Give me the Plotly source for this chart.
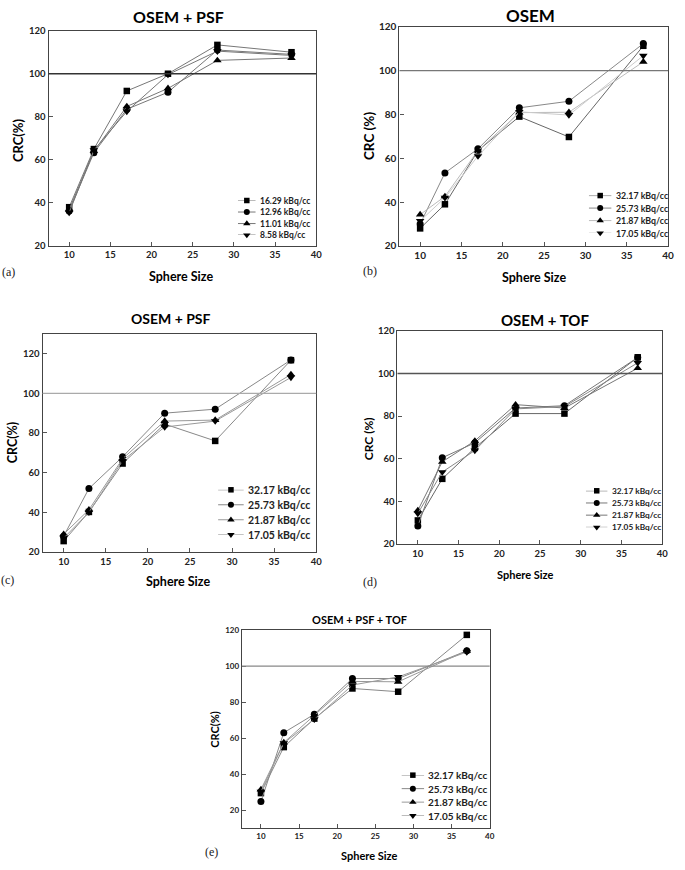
import plotly.graph_objects as go

W, H = 685, 870

# ---------------- data ----------------
SPHERE = [10, 13, 17, 22, 28, 37]
REF_LINE = 100
X_TICKS = [10, 15, 20, 25, 30, 35, 40]

A_TITLE = "OSEM + PSF"
A_LABELS = ["16.29 kBq/cc", "12.96 kBq/cc", "11.01 kBq/cc", "8.58 kBq/cc"]
A_SQUARE = [38, 65, 92, 100, 113.4, 110]
A_CIRCLE = [36.2, 63.3, 83.5, 91.4, 111, 109]
A_TRIANGLE = [37, 64, 84.8, 93.2, 106.2, 107.3]
A_INVERTED = [35.5, 64.5, 82.5, 99.6, 110.5, 108.5]

B_TITLE = "OSEM"
B_LABELS = ["32.17 kBq/cc", "25.73 kBq/cc", "21.87 kBq/cc", "17.05 kBq/cc"]
B_SQUARE = [28, 39, 63.5, 79, 69.7, 111.3]
B_CIRCLE = [30, 53.3, 64.3, 83, 86, 112.3]
B_TRIANGLE = [34.3, 42.6, 63.5, 80.8, 81, 104]
B_INVERTED = [31.4, 42, 61, 81.2, 79.7, 106.8]

C_TITLE = "OSEM + PSF"
C_LABELS = ["32.17 kBq/cc", "25.73 kBq/cc", "21.87 kBq/cc", "17.05 kBq/cc"]
C_SQUARE = [25.5, 40.2, 64.6, 84.5, 76, 116.7]
C_CIRCLE = [28, 52, 68, 90, 92, 116.8]
C_TRIANGLE = [29, 41.3, 67, 86, 86.5, 109.5]
C_INVERTED = [27, 40, 66, 83, 86, 108]

D_TITLE = "OSEM + TOF"
D_LABELS = ["32.17 kBq/cc", "25.73 kBq/cc", "21.87 kBq/cc", "17.05 kBq/cc"]
D_SQUARE = [31.1, 50.6, 65.1, 81.2, 81.2, 107.6]
D_CIRCLE = [28.5, 60.5, 67.5, 83.8, 84.9, 107.5]
D_TRIANGLE = [35.8, 58.6, 68.4, 85.4, 83.8, 102.5]
D_INVERTED = [34.4, 53.8, 63.9, 83.4, 84.5, 105]

E_TITLE = "OSEM + PSF + TOF"
E_LABELS = ["32.17 kBq/cc", "25.73 kBq/cc", "21.87 kBq/cc", "17.05 kBq/cc"]
E_SQUARE = [29.6, 55.1, 70.9, 87.6, 85.8, 117.3]
E_CIRCLE = [24.9, 63.1, 73.3, 93.1, 93.1, 108.5]
E_TRIANGLE = [31.6, 57.6, 72.7, 91.5, 91.3, 108.5]
E_INVERTED = [30.4, 57.3, 70.5, 89.5, 94, 107.8]

X_LABEL = "Sphere Size"
PANEL_TAGS = ["(a)", "(b)", "(c)", "(d)", "(e)"]

# ---------------- style / layout ----------------
SYMBOLS = ["square", "circle", "triangle-up", "triangle-down"]
MSIZE = [6.5, 7, 7.5, 7.5]
LEG_MSIZE = [5.5, 6, 6.5, 6.5]
FONT = "Lato"
SERIF = "Liberation Serif"


def fx(px):
    return px / W


def fy(py):
    return 1 - py / H


def ax_id(n):
    return "" if n == 1 else str(n)


panels = [
    dict(title=A_TITLE, labels=A_LABELS, series=[A_SQUARE, A_CIRCLE, A_TRIANGLE, A_INVERTED],
         frame=(49, 319, 25, 243), yr=(20, 120), tick=9.5,
         tpos=(180, 11, 16), xt=(183, 274, 12.5), yt=(18, 136, 13, "CRC(%)"), tag=(9, 269),
         colors=["#777", "#777", "#777", "#777"], refc="#333",
         leg=(240, 258, 197, 232, 8.5)),
    dict(title=B_TITLE, labels=B_LABELS, series=[B_SQUARE, B_CIRCLE, B_TRIANGLE, B_INVERTED],
         frame=(403, 674, 21, 243), yr=(20, 120), tick=10,
         tpos=(535, 10, 17), xt=(539, 275, 12.5), yt=(373, 132, 13.5, "CRC (%)"), tag=(373, 268),
         colors=["#666", "#888", "#bbb", "#ccc"], refc="#777",
         leg=(594, 617, 192, 230, 8.8)),
    dict(title=C_TITLE, labels=C_LABELS, series=[C_SQUARE, C_CIRCLE, C_TRIANGLE, C_INVERTED],
         frame=(43, 319, 332, 553), yr=(20, 130), tick=9.5,
         tpos=(173, 317, 14), xt=(180, 583, 12.5), yt=(13, 442, 12.5, "CRC(%)"), tag=(8, 581),
         colors=["#888", "#888", "#999", "#999"], refc="#aaa",
         leg=(220, 246, 490, 535.5, 10.5)),
    dict(title=D_TITLE, labels=D_LABELS, series=[D_SQUARE, D_CIRCLE, D_TRIANGLE, D_INVERTED],
         frame=(401, 668, 329, 545), yr=(20, 120), tick=9.5,
         tpos=(550, 318, 15), xt=(530, 576, 11), yt=(372, 438, 12, "CRC (%)"), tag=(373, 583),
         colors=["#666", "#777", "#777", "#888"], refc="#555",
         leg=(591, 613, 491, 528, 8.3)),
    dict(title=E_TITLE, labels=E_LABELS, series=[E_SQUARE, E_CIRCLE, E_TRIANGLE, E_INVERTED],
         frame=(244, 494, 632, 833), yr=(10, 120), tick=8,
         tpos=(363, 621, 11), xt=(373, 860, 11), yt=(217, 733, 11, "CRC(%)"), tag=(213, 857),
         colors=["#888", "#888", "#999", "#999"], refc="#888",
         leg=(405, 428, 779, 820, 10)),
]

fig = go.Figure()
annotations = []
shapes = []
layout = {}

for i, p in enumerate(panels):
    n = i + 1
    ln = i + 6
    xa, ya = "x" + ax_id(n), "y" + ax_id(n)
    la, lya = "x" + ax_id(ln), "y" + ax_id(ln)
    x0, x1, y0, y1 = p["frame"]
    axis_common = dict(showline=True, mirror=True, linecolor="#444", linewidth=1.3,
                       ticks="inside", ticklen=4, tickcolor="#555", tickwidth=1,
                       showgrid=False, zeroline=False,
                       tickfont=dict(family=FONT, size=p["tick"], color="#222", weight="bold"))
    layout["xaxis" + ax_id(n)] = dict(domain=[fx(x0), fx(x1)], range=[7.5, 40], tickvals=X_TICKS,
                                      anchor=ya, **axis_common)
    layout["yaxis" + ax_id(n)] = dict(domain=[fy(y1), fy(y0)], range=list(p["yr"]), dtick=20,
                                      tick0=0, anchor=xa, **axis_common)

    # reference line
    shapes.append(dict(type="line", xref=f"{xa} domain", yref=ya, x0=0, x1=1,
                       y0=REF_LINE, y1=REF_LINE, line=dict(color=p["refc"], width=1.3)))

    for k, vals in enumerate(p["series"]):
        fig.add_trace(go.Scatter(
            x=SPHERE, y=vals, mode="lines+markers", xaxis=xa, yaxis=ya,
            line=dict(color=p["colors"][k], width=1),
            marker=dict(symbol=SYMBOLS[k], size=MSIZE[k], color="black"),
            cliponaxis=False, showlegend=False))

    # custom compact legend
    lx0, lx1, ly0, ly1, lfs = p["leg"]
    layout["xaxis" + ax_id(ln)] = dict(domain=[fx(lx0), fx(lx1)], range=[0, 1], visible=False, anchor=lya)
    layout["yaxis" + ax_id(ln)] = dict(domain=[fy(ly1), fy(ly0)], range=[3, 0], visible=False, anchor=la)
    for k, lab in enumerate(p["labels"]):
        fig.add_trace(go.Scatter(x=[0, 1], y=[k, k], mode="lines", xaxis=la, yaxis=lya,
                                 line=dict(color=p["colors"][k], width=1),
                                 cliponaxis=False, showlegend=False, hoverinfo="skip"))
        fig.add_trace(go.Scatter(x=[0.5], y=[k], mode="markers", xaxis=la, yaxis=lya,
                                 marker=dict(symbol=SYMBOLS[k], size=LEG_MSIZE[k], color="black"),
                                 cliponaxis=False, showlegend=False, hoverinfo="skip"))
        annotations.append(dict(xref=la, yref=lya, x=1, y=k, xanchor="left", yanchor="middle",
                                xshift=2, text=lab, showarrow=False,
                                font=dict(family=FONT, size=lfs, color="#222", weight="bold")))

    tx, ty, tfs = p["tpos"]
    annotations.append(dict(xref="paper", yref="paper", x=fx(tx), y=fy(ty), xanchor="center",
                            yanchor="middle", text=p["title"], showarrow=False,
                            font=dict(family=FONT, size=tfs, color="black", weight="bold")))
    xx, xy, xfs = p["xt"]
    annotations.append(dict(xref="paper", yref="paper", x=fx(xx), y=fy(xy), xanchor="center",
                            yanchor="middle", text=X_LABEL, showarrow=False,
                            font=dict(family=FONT, size=xfs, color="black", weight="bold")))
    yx, yy, yfs, ytxt = p["yt"]
    annotations.append(dict(xref="paper", yref="paper", x=fx(yx), y=fy(yy), xanchor="center",
                            yanchor="middle", text=ytxt, textangle=-90, showarrow=False,
                            font=dict(family=FONT, size=yfs, color="black", weight="bold")))
    gx, gy = p["tag"]
    annotations.append(dict(xref="paper", yref="paper", x=fx(gx), y=fy(gy), xanchor="center",
                            yanchor="middle", text=PANEL_TAGS[i], showarrow=False,
                            font=dict(family=SERIF, size=12, color="#222")))

fig.update_layout(width=W, height=H, margin=dict(l=0, r=0, t=0, b=0),
                  paper_bgcolor="white", plot_bgcolor="white", showlegend=False,
                  hovermode=False,
                  annotations=annotations, shapes=shapes, **layout)

fig.write_html("out.html", config={"displayModeBar": False},
               post_script="document.body.style.margin='0';document.body.style.overflow='hidden';")
